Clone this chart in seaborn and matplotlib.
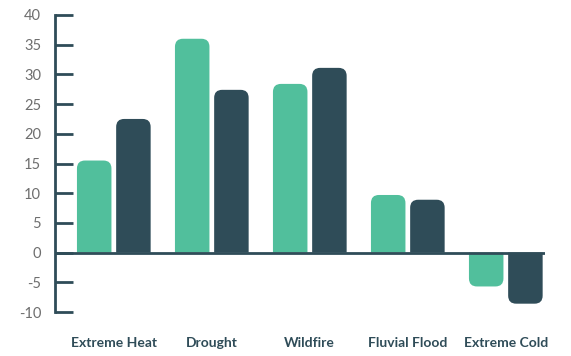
import matplotlib
matplotlib.use("Agg")
import matplotlib.pyplot as plt
from matplotlib.patches import PathPatch
from matplotlib.path import Path
import seaborn as sns
import pandas as pd

categories = ["Extreme Heat", "Drought", "Wildfire", "Fluvial Flood", "Extreme Cold"]
series_names = ["Series A", "Series B"]
series_a = [15.5, 36.0, 28.4, 9.7, -5.7]
series_b = [22.5, 27.4, 31.1, 8.9, -8.6]
y_ticks = [-10, -5, 0, 5, 10, 15, 20, 25, 30, 35, 40]

GREEN = "#51bf9c"
DARK = "#2f4c58"

df = pd.DataFrame({
    "category": categories * 2,
    "series": [series_names[0]] * len(categories) + [series_names[1]] * len(categories),
    "value": series_a + series_b,
})

sns.set_theme(style="white")
plt.rcParams["font.family"] = ["Lato", "DejaVu Sans"]

fig = plt.figure(figsize=(5.71, 3.56), dpi=100)
ax = fig.add_axes([55 / 571, 44 / 356, 490 / 571, 297 / 356])

sns.barplot(data=df, x="category", y="value", hue="series", order=categories,
            hue_order=series_names, palette=[GREEN, DARK], width=0.8, gap=0.12,
            ax=ax, legend=False, saturation=1, linewidth=0)

ax.set_xlim(-0.6, 4.4)
ax.set_ylim(-10, 40)

# rounded free ends, square base
px_x = 98.0
px_y = 297.0 / 50.0
r_px = 8.0
rx = r_px / px_x
ry = r_px / px_y
for p in list(ax.patches):
    x0, y0 = p.get_x(), p.get_y()
    w, h = p.get_width(), p.get_height()
    if h == 0:
        continue
    col = p.get_facecolor()
    x1 = x0 + w
    base = y0
    tip = y0 + h
    s = 1 if h > 0 else -1
    r = min(ry, abs(h))
    verts = [
        (x0, base),
        (x0, tip - s * r),
        (x0, tip), (x0 + rx, tip),
        (x1 - rx, tip),
        (x1, tip), (x1, tip - s * r),
        (x1, base),
        (x0, base),
    ]
    codes = [Path.MOVETO, Path.LINETO, Path.CURVE3, Path.CURVE3, Path.LINETO,
             Path.CURVE3, Path.CURVE3, Path.LINETO, Path.CLOSEPOLY]
    pp = PathPatch(Path(verts, codes), facecolor=col, edgecolor="none",
                   zorder=p.get_zorder())
    ax.add_patch(pp)
    p.set_visible(False)

ax.axhline(0, color=DARK, lw=2, zorder=5)

for s in ["top", "right", "bottom"]:
    ax.spines[s].set_visible(False)
ax.spines["left"].set_color(DARK)
ax.spines["left"].set_linewidth(2)

ax.set_yticks(y_ticks)
ax.set_yticklabels([str(v) for v in y_ticks])
ax.tick_params(axis="y", direction="in", length=13, width=2, color=DARK,
               labelcolor="#6e6e6e", labelsize=10.5, pad=10, left=True)
ax.tick_params(axis="x", length=0, labelcolor=DARK, labelsize=10, pad=18)
for lbl in ax.get_xticklabels():
    lbl.set_fontweight("bold")

ax.set_xlabel("")
ax.set_ylabel("")
ax.grid(False)

fig.savefig("out.png", dpi=100)
